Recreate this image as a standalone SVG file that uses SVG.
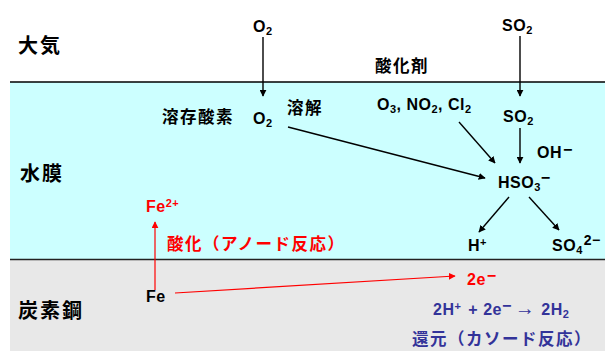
<svg xmlns="http://www.w3.org/2000/svg" width="605" height="351" viewBox="0 0 605 351">
<defs>
<marker id="ah" viewBox="0 0 10 10" refX="9" refY="5" markerWidth="7" markerHeight="7" markerUnits="userSpaceOnUse" orient="auto"><path d="M0,0 L10,5 L0,10 z" fill="#000"/></marker>
<marker id="ahr" viewBox="0 0 10 10" refX="9" refY="5" markerWidth="7" markerHeight="7" markerUnits="userSpaceOnUse" orient="auto"><path d="M0,0 L10,5 L0,10 z" fill="#ff0000"/></marker>
</defs>
<style>
text{font-family:"Liberation Sans","Noto Sans CJK JP",Arial,sans-serif;font-weight:bold;font-size:16px;fill:#000;letter-spacing:0.5px}
.jp{font-family:"Noto Sans CJK JP","Liberation Sans",sans-serif;font-size:16.5px;letter-spacing:1.5px}
text.lbl{font-size:20px;letter-spacing:2px}
.red{fill:#ff0000}
.blue{fill:#333399}
.sub{font-size:11px}
.k{stroke:#000;stroke-width:1.4;fill:none;marker-end:url(#ah)}
.r{stroke:#ff0000;stroke-width:1.2;fill:none;marker-end:url(#ahr)}
</style>
<rect x="0" y="0" width="605" height="351" fill="#fff"/>
<rect id="water" x="10" y="82" width="595" height="177" fill="#ccffff"/>
<rect id="steel" x="10" y="260" width="595" height="91" fill="#e8e8e8"/>
<line x1="10" y1="82" x2="605" y2="82" stroke="#000" stroke-width="1.5"/>
<line x1="10" y1="259.5" x2="605" y2="259.5" stroke="#222" stroke-width="1.5"/>

<g id="zones">
<text class="jp lbl" x="18" y="53">大気</text>
<text class="jp lbl" x="20" y="181">水膜</text>
<text class="jp lbl" x="18" y="318">炭素鋼</text>
</g>

<g id="o2-air"><text x="253" y="32">O<tspan class="sub" dy="3">2</tspan></text></g>
<g id="so2-air"><text x="502" y="31">SO<tspan class="sub" dy="3">2</tspan></text></g>
<g id="oxidant-label"><text class="jp" x="375" y="72">酸化剤</text></g>
<g id="o2-dissolved"><text class="jp" x="162" y="123">溶存酸素</text><text x="253" y="124">O<tspan class="sub" dy="3">2</tspan></text></g>
<g id="dissolve-label"><text class="jp" x="287" y="114">溶解</text></g>
<g id="oxidants"><text x="377" y="110">O<tspan class="sub" dy="3">3</tspan><tspan dy="-3">, NO</tspan><tspan class="sub" dy="3">2</tspan><tspan dy="-3">, Cl</tspan><tspan class="sub" dy="3">2</tspan></text></g>
<g id="so2-water"><text x="503" y="122">SO<tspan class="sub" dy="3">2</tspan></text></g>
<g id="oh"><text x="537" y="158">OH<tspan dx="1" dy="-3">−</tspan></text></g>
<g id="hso3"><text x="498" y="188">HSO<tspan class="sub" dy="3">3</tspan><tspan dy="-8">−</tspan></text></g>
<g id="hplus"><text x="468" y="251">H<tspan class="sub" dy="-5">+</tspan></text></g>
<g id="so4"><text x="552" y="251">SO<tspan class="sub" dy="3">4</tspan><tspan dx="1" dy="-9" font-size="14px">2−</tspan></text></g>
<g id="fe2"><text class="red" x="146" y="212">Fe<tspan class="sub" dy="-5">2+</tspan></text></g>
<g id="anode-label"><text class="jp red" x="167" y="250">酸化（アノード反応）</text></g>
<g id="fe"><text x="146" y="302">Fe</text></g>
<g id="electrons"><text class="red" x="467" y="285">2e<tspan dx="1" dy="-4">−</tspan></text></g>
<g id="cathode-eq"><text class="blue" x="433" y="315" letter-spacing="1px">2H<tspan class="sub" dy="-5">+</tspan><tspan dx="2" dy="5"> + 2e</tspan><tspan dy="-4">−</tspan><tspan dx="3" dy="4" font-weight="normal" font-size="20px" textLength="26">→</tspan><tspan dx="6">2H</tspan><tspan class="sub" dy="3">2</tspan></text></g>
<g id="cathode-label"><text class="jp blue" x="412" y="345">還元（カソード反応）</text></g>

<g id="connectors">
<line class="k" x1="263" y1="37" x2="263" y2="96"/>
<line class="k" x1="520" y1="36" x2="520" y2="96"/>
<line class="k" x1="288" y1="127" x2="485" y2="178"/>
<line class="k" x1="459" y1="122" x2="495" y2="163"/>
<line class="k" x1="520" y1="128" x2="520" y2="163"/>
<line class="k" x1="509" y1="197" x2="479" y2="232"/>
<line class="k" x1="529" y1="197" x2="559" y2="230"/>
<line class="r" x1="155" y1="290" x2="155" y2="222"/>
<line class="r" x1="175" y1="293" x2="455" y2="276"/>
</g>
</svg>
